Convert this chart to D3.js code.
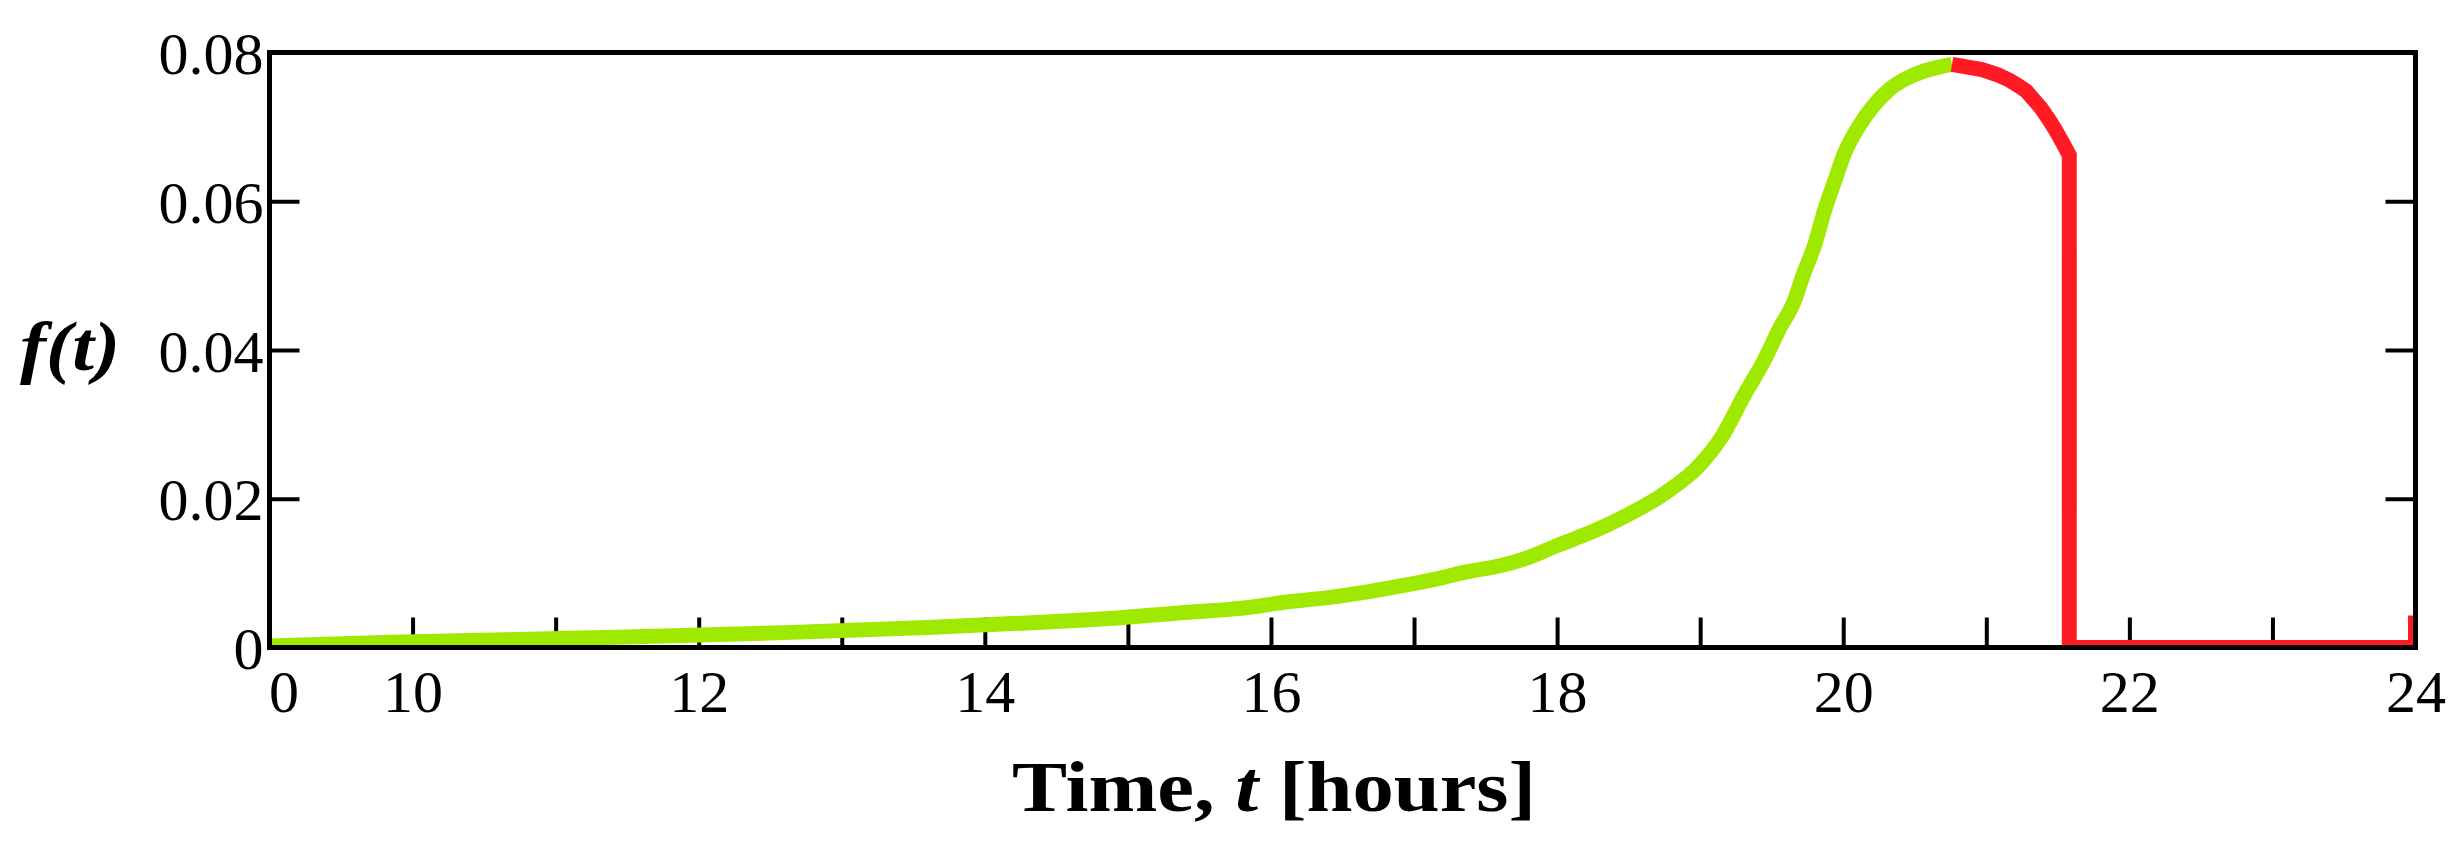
<!DOCTYPE html>
<html>
<head>
<meta charset="utf-8">
<script src="https://cdn.jsdelivr.net/npm/d3@7"></script>
<style>
  html, body { margin: 0; padding: 0; background: #fff; }
  svg { display: block; }
  text { font-family: "Liberation Serif", "Times New Roman", serif; fill: #000; }
</style>
</head>
<body>
<svg id="chart" width="2462" height="848"></svg>
<script>
// ---- data ----
const greenT = [9.0, 9.85, 11.25, 12.6, 13.6, 14.4, 14.95, 15.4, 15.85, 16.1, 16.4, 16.65, 16.85, 17.05, 17.2, 17.35, 17.6, 17.8, 18.0, 18.25, 18.5, 18.75, 19.0, 19.15, 19.31, 19.45, 19.55, 19.66, 19.72, 19.80, 19.87, 19.94, 20.01, 20.11, 20.21, 20.32, 20.43, 20.55, 20.66, 20.76];
const greenF = [0.0002, 0.0007, 0.0013, 0.0020, 0.0027, 0.0034, 0.0040, 0.0047, 0.0054, 0.0061, 0.0067, 0.0074, 0.0081, 0.0088, 0.0094, 0.0101, 0.0110, 0.0121, 0.0137, 0.0156, 0.0179, 0.0207, 0.0246, 0.0283, 0.0340, 0.0387, 0.0427, 0.0467, 0.0501, 0.0541, 0.0588, 0.0627, 0.0665, 0.0701, 0.0728, 0.0750, 0.0764, 0.0774, 0.0780, 0.0784];
const redT = [20.76, 20.97, 21.08, 21.16, 21.22, 21.28, 21.33, 21.38, 21.43, 21.48, 21.53, 21.58, 21.58, 24.0, 24.0];
const redF = [0.0784, 0.0777, 0.0770, 0.0763, 0.0756, 0.0748, 0.0737, 0.0726, 0.0712, 0.0697, 0.0680, 0.0662, 0.0, 0.0, 0.0043];

const xMinorTicks = [10, 11, 12, 13, 14, 15, 16, 17, 18, 19, 20, 21, 22, 23];
const xLabelValues = [9, 10, 12, 14, 16, 18, 20, 22, 24];
const xLabelTexts = ["0", "10", "12", "14", "16", "18", "20", "22", "24"];
const yMinorTicks = [0.02, 0.04, 0.06];
const yLabelValues = [0, 0.02, 0.04, 0.06, 0.08];
const yLabelTexts = ["0", "0.02", "0.04", "0.06", "0.08"];

const xTitle = ["Time, ", "t", " [hours]"];
const yTitle = "f(t)";

// ---- layout ----
const L = 269.5, R = 2415.5, T = 52.5, B = 647.5;
const svg = d3.select("#chart");
svg.append("rect").attr("width", 2462).attr("height", 848).attr("fill", "#fff");

const x = d3.scaleLinear().domain([9, 24]).range([L, R]);
const y = d3.scaleLinear().domain([0, 0.08]).range([B, T]);

svg.append("defs").append("clipPath").attr("id", "plotclip")
  .append("rect").attr("x", L).attr("y", T).attr("width", R - L).attr("height", B - T);

// inward ticks
const tickLen = 30;
const gxt = svg.append("g").attr("transform", `translate(0,${B})`)
  .call(d3.axisBottom(x).tickValues(xMinorTicks).tickSize(-tickLen).tickFormat(""));
const gyl = svg.append("g").attr("transform", `translate(${L},0)`)
  .call(d3.axisLeft(y).tickValues(yMinorTicks).tickSize(-tickLen).tickFormat(""));
const gyr = svg.append("g").attr("transform", `translate(${R},0)`)
  .call(d3.axisRight(y).tickValues(yMinorTicks).tickSize(-tickLen).tickFormat(""));
[gxt, gyl, gyr].forEach(g => {
  g.select(".domain").remove();
  g.selectAll(".tick line").attr("stroke", "#000").attr("stroke-width", 4);
});

// data lines
const plot = svg.append("g").attr("clip-path", "url(#plotclip)");
const greenData = greenT.map((t, i) => [t, greenF[i]]);
const redData = redT.map((t, i) => [t, redF[i]]);
plot.append("path").datum(greenData)
  .attr("d", d3.line().x(d => x(d[0])).y(d => y(d[1])).curve(d3.curveMonotoneX))
  .attr("fill", "none").attr("stroke", "#9fe800").attr("stroke-width", 15);
plot.append("path").datum(redData)
  .attr("d", d3.line().x(d => x(d[0])).y(d => y(d[1])))
  .attr("fill", "none").attr("stroke", "#ff1a24").attr("stroke-width", 15)
  .attr("stroke-linejoin", "miter");

// frame
svg.append("rect").attr("x", L).attr("y", T).attr("width", R - L).attr("height", B - T)
  .attr("fill", "none").attr("stroke", "#000").attr("stroke-width", 5);

// x labels
const gxl = svg.append("g").attr("transform", `translate(0,${B})`)
  .call(d3.axisBottom(x).tickValues(xLabelValues).tickSize(0).tickPadding(0)
    .tickFormat((d, i) => xLabelTexts[i]));
gxl.select(".domain").remove();
gxl.selectAll(".tick text")
  .attr("y", 64).attr("dy", 0)
  .style("font-size", "60px")
  .style("font-family", "'Liberation Serif', serif")
  .attr("text-anchor", (d, i) => i === 0 ? "start" : "middle")
  .attr("x", (d, i) => i === 0 ? -1 : 0);

// y labels
const gyl2 = svg.append("g").attr("transform", `translate(${L},0)`)
  .call(d3.axisLeft(y).tickValues(yLabelValues).tickSize(0).tickPadding(0)
    .tickFormat((d, i) => yLabelTexts[i]));
gyl2.select(".domain").remove();
gyl2.selectAll(".tick text")
  .attr("x", -6).attr("dy", 0).attr("y", 21)
  .attr("text-anchor", "end")
  .style("font-size", "60px")
  .style("font-family", "'Liberation Serif', serif");

// axis titles
const xt = svg.append("text")
  .attr("x", 1012).attr("y", 811)
  .attr("textLength", 524).attr("lengthAdjust", "spacingAndGlyphs")
  .style("font-size", "72px").style("font-weight", "bold");
xt.append("tspan").text(xTitle[0]);
xt.append("tspan").style("font-style", "italic").text(xTitle[1]);
xt.append("tspan").text(xTitle[2]);

svg.append("text")
  .attr("x", 20).attr("y", 370)
  .attr("textLength", 100).attr("lengthAdjust", "spacingAndGlyphs")
  .style("font-size", "70px").style("font-weight", "bold").style("font-style", "italic")
  .text(yTitle);
</script>
</body>
</html>
